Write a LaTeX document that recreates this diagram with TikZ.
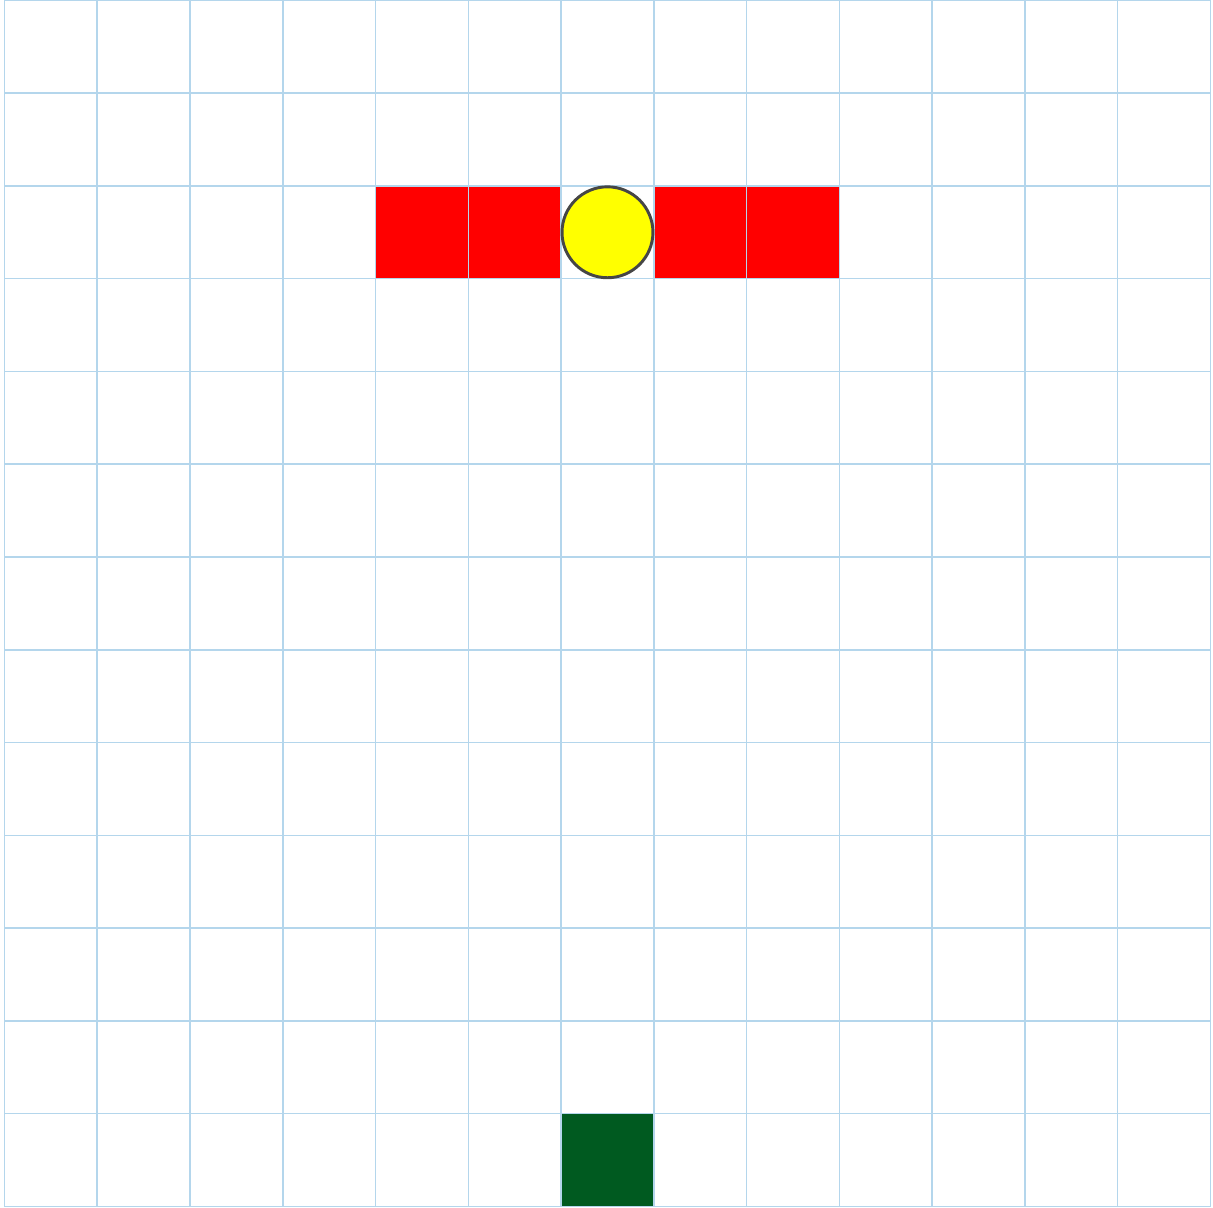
\documentclass[tikz,border=0pt]{standalone}
\usetikzlibrary{positioning}
\definecolor{gridblue}{RGB}{180,214,236}
\definecolor{wallred}{RGB}{255,0,0}
\definecolor{goalgreen}{RGB}{0,90,32}
\definecolor{ballyellow}{RGB}{255,255,0}
\definecolor{rimgray}{RGB}{70,70,70}
\begin{document}
\begin{tikzpicture}[
  cell/.style={draw=none, minimum size=1cm, inner sep=0pt, outer sep=0pt},
  wall/.style={cell, fill=wallred},
  goal/.style={cell, fill=goalgreen},
  ball/.style={circle, draw=rimgray, line width=0.9pt, fill=ballyellow, minimum size=0.98cm, inner sep=0pt},
  gridline/.style={draw=gridblue, line width=0.45pt}
]
\useasboundingbox (-0.048,-0.016) rectangle (13.027,13.004);

% Walls
\node[wall] (w1) at (4.5,10.5) {};
\node[wall, right=0pt of w1] (w2) {};
\node[wall] (w3) at (7.5,10.5) {};
\node[wall, right=0pt of w3] (w4) {};

% Goal
\node[goal] (goal) at (6.5,0.5) {};

% Grid
\draw[gridline] (0,0) grid (13,13);

% Ball
\node[ball] (ball) at (6.5,10.5) {};

\end{tikzpicture}
\end{document}
